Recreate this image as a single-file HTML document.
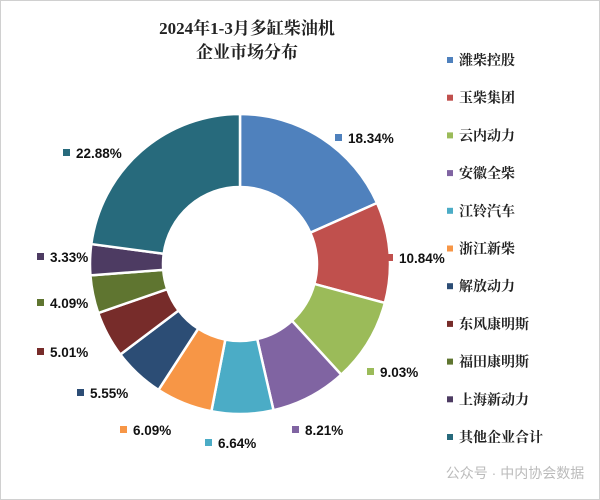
<!DOCTYPE html>
<html><head><meta charset="utf-8"><style>
body{margin:0;background:#fff}
svg{display:block}
.t{font-family:"Liberation Serif","Noto Serif CJK SC",serif;font-weight:bold;font-size:17px;fill:#222}
.l{font-family:"Liberation Serif","Noto Serif CJK SC",serif;font-weight:bold;font-size:14px;fill:#222}
.p{font-family:"Liberation Sans",sans-serif;font-weight:bold;font-size:13.5px;fill:#111}
</style></head><body>
<svg id="s" width="600" height="500" viewBox="0 0 600 500">
<rect x="0.5" y="0.5" width="599" height="499" fill="#fff" stroke="#d0d0d0"/>
<text class="t" x="247" y="34" text-anchor="middle">2024年1-3月多缸柴油机</text>
<text class="t" x="247" y="58" text-anchor="middle">企业市场分布</text>
<g id="g"></g>
<text x="515" y="478" text-anchor="middle" font-family="Liberation Sans,Noto Sans CJK SC,sans-serif" font-size="14" fill="#bbb">公众号 · 中内协会数据</text>
</svg>
<script>
var v=[18.34,10.84,9.03,8.21,6.64,6.09,5.55,5.01,4.09,3.33,22.88];
var c=["#4f81bd","#c0504d","#9bbb59","#8064a2","#4bacc6","#f79646","#2c4d75","#772c2a","#5f7530","#4d3b62","#276a7c"];
var n=["潍柴控股","玉柴集团","云内动力","安徽全柴","江铃汽车","浙江新柴","解放动力","东风康明斯","福田康明斯","上海新动力","其他企业合计"];
var lp=[[335,138],[386,258],[367,372],[292,430],[205,443],[120,430],[77,393],[37,352],[37,303],[37,257],[63,153]];
var cx=240,cy=264,R=150,r=77,tot=v.reduce((a,b)=>a+b),a=0,h="";
function P(rad,ang){return [cx+rad*Math.sin(ang),cy-rad*Math.cos(ang)];}
for(var i=0;i<v.length;i++){
var a2=a+v[i]/tot*2*Math.PI,lg=(a2-a)>Math.PI?1:0;
var p1=P(R,a),p2=P(R,a2),p3=P(r,a2),p4=P(r,a);
h+='<path d="M'+p1+' A'+R+','+R+' 0 '+lg+' 1 '+p2+' L'+p3+' A'+r+','+r+' 0 '+lg+' 0 '+p4+'Z" fill="'+c[i]+'" stroke="#fff" stroke-width="2.5"/>';
a=a2;
h+='<rect x="'+lp[i][0]+'" y="'+(lp[i][1]-4)+'" width="7" height="7" fill="'+c[i]+'"/>';
h+='<text class="p" x="'+(lp[i][0]+13)+'" y="'+(lp[i][1]+5)+'">'+v[i].toFixed(2)+'%</text>';
var y=60+i*37.7;
h+='<rect x="447" y="'+(y-3)+'" width="6" height="6" fill="'+c[i]+'"/>';
h+='<text class="l" x="459" y="'+(y+5)+'">'+n[i]+'</text>';
}
document.getElementById("g").innerHTML=h;
</script>
</body></html>
